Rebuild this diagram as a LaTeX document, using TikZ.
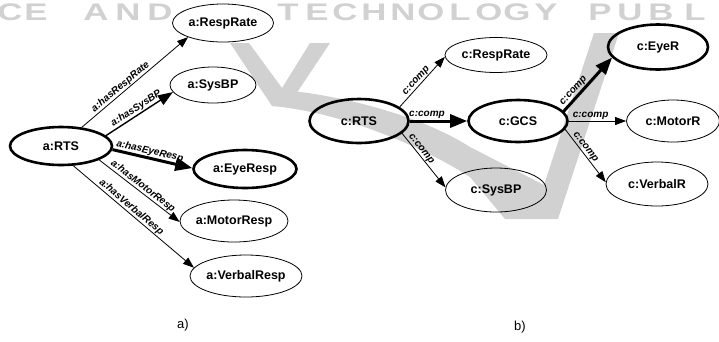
\documentclass[tikz,border=0pt]{standalone}
\usepackage{fontspec}
\setmainfont{Liberation Sans}
\usepackage{tikz}
\usetikzlibrary{shapes.geometric,arrows.meta}

\begin{document}
\begin{tikzpicture}[x=1pt,y=-1pt,
	concept/.style={ellipse,draw,line width=0.8pt,inner sep=0pt,minimum width=101pt,minimum height=38pt,font=\fontsize{12.5}{13}\selectfont\bfseries},
	key/.style={concept,line width=2.6pt},
	rel/.style={line width=0.8pt,-{Triangle[length=11pt,width=8pt]}},
	mainrel/.style={line width=3pt,-{Triangle[length=17pt,width=13pt]}},
	lbl/.style={sloped,above,inner sep=0.6pt,font=\fontsize{10}{10}\selectfont\bfseries\itshape},
	wmark/.style={text=black!18,font=\fontsize{24}{24}\selectfont\bfseries,xscale=1.45,anchor=base,inner sep=0pt},
	logo/.style={fill=black!18}]
	\useasboundingbox (0,0) rectangle (719,341);
	\clip (0,0) rectangle (719,341);
	\foreach \ch/\px in {C/10,E/36,A/96,N/128,D/160,T/288,E/317,C/345,H/374,N/403,O/431,L/460,O/489,G/517,Y/546,P/600,U/630,B/661,L/695}
	\node[wmark] at (\px,20) {\ch};
	\fill[logo] (230,43) -- (249,43) -- (282,88) -- (310,43) -- (330,43) -- (288,106) -- (272,106) -- cycle;
	\fill[logo] (282,90) .. controls (340,95) and (420,115) .. (470,147) -- (544,185) -- (594,33) -- (619,33) -- (558,219) -- (505,219) -- (470,177) .. controls (420,145) and (340,112) .. (272,106) -- cycle;

	\node[key,minimum width=102pt] (aRTS) at (61,146) {a:RTS};
	\node[concept] (aResp) at (223,23) {a:RespRate};
	\node[concept,minimum width=86pt,minimum height=36pt] (aSys) at (213,85) {a:SysBP};
	\node[key,minimum width=103pt] (aEye) at (245,169) {a:EyeResp};
	\node[concept,minimum width=103pt,minimum height=42pt] (aMotor) at (234,221) {a:MotorResp};
	\node[concept,minimum width=102pt,minimum height=42pt] (aVerbal) at (246,276) {a:VerbalResp};
	\draw[rel] (aRTS.42) -- node[lbl,pos=.4] {a:hasRespRate} (aResp.202);
	\draw[rel,line width=1.4pt,-{Triangle[length=15pt,width=11pt]}] (aRTS.13) -- node[lbl] {a:hasSysBP} (aSys.190);
	\draw[mainrel] (aRTS.-4) -- node[lbl,pos=.45] {a:hasEyeResp} (aEye.179);
	\draw[rel] (aRTS.-20) -- node[lbl] {a:hasMotorResp} (aMotor.181);
	\draw[rel] (aRTS.-58) -- node[lbl,pos=.45] {a:hasVerbalResp} (aVerbal.171);
	\node[font=\fontsize{13}{13}\selectfont] (capA) at (183,325) {a)};

	\node[key,minimum width=99pt,minimum height=44pt] (cRTS) at (359,121) {c:RTS};
	\node[concept,minimum width=102pt,minimum height=35pt] (cResp) at (496,55) {c:RespRate};
	\node[key,minimum width=99pt,minimum height=42pt] (cGCS) at (518,121) {c:GCS};
	\node[key,minimum width=100pt,minimum height=45pt] (cEye) at (658,47) {c:EyeR};
	\node[concept,minimum width=93pt,minimum height=42pt] (cMotor) at (673,121) {c:MotorR};
	\node[concept,minimum width=102pt,minimum height=44pt] (cVerbal) at (657,184) {c:VerbalR};
	\node[concept,minimum width=101pt,minimum height=44pt] (cSys) at (496,190) {c:SysBP};
	\draw[rel] (cRTS.19) -- node[lbl,pos=.45] {c:comp} (cResp.182);
	\draw[mainrel] (cRTS.0) -- node[lbl,pos=.3] {c:comp} (cGCS.180);
	\draw[rel] (cRTS.-16) -- node[lbl,pos=.35] {c:comp} (cSys.177);
	\draw[mainrel] (cGCS.12) -- node[lbl,pos=.3] {c:comp} (cEye.193);
	\draw[rel] (cGCS.0) -- node[lbl,pos=.38] {c:comp} (cMotor.180);
	\draw[rel] (cGCS.-10) -- node[lbl,pos=.4] {c:comp} (cVerbal.178);
	\node[font=\fontsize{13}{13}\selectfont] (capB) at (520,327) {b)};
\end{tikzpicture}
\end{document}
